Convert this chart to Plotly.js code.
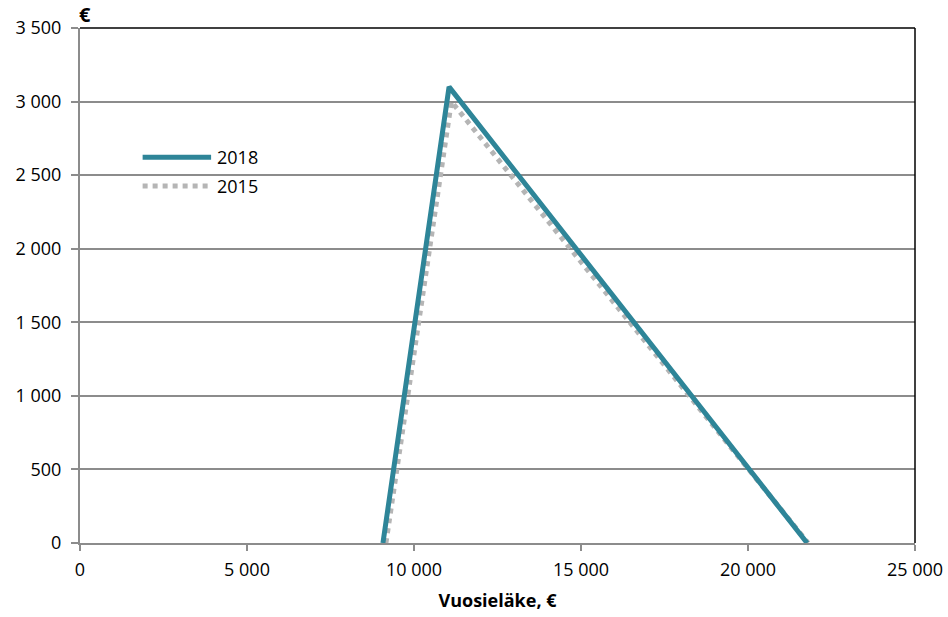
<!DOCTYPE html>
<html><head><meta charset="utf-8">
<script src="https://cdn.plot.ly/plotly-3.0.1.min.js"></script>
<style>body{margin:0;background:#fff}#chart{width:948px;height:617px}</style>
</head><body><div id="chart"></div>
<script>
const x2018 = [9070, 11050, 21770];
const y2018 = [0, 3100, 0];
const x2015 = [9160, 11120, 21800];
const y2015 = [0, 3000, 0];
const seriesNames = ['2018', '2015'];
const xTicks = [0, 5000, 10000, 15000, 20000, 25000];
const yTicks = [0, 500, 1000, 1500, 2000, 2500, 3000, 3500];
const xTitle = 'Vuosieläke, €';
const yUnit = '€';

const teal = '#2e8598', grey = '#b5b5b5', axisGrey = '#8c8c8c';
const FONT = 'Open Sans, sans-serif';

const traces = [
  {x: x2015, y: y2015, mode: 'lines', name: seriesNames[1],
   line: {color: grey, width: 5, dash: '5px,5px'}},
  {x: x2018, y: y2018, mode: 'lines', name: seriesNames[0],
   line: {color: teal, width: 5}}
];

const layout = {
  width: 948, height: 617,
  margin: {l: 80, r: 33, t: 28, b: 74},
  paper_bgcolor: '#fff', plot_bgcolor: '#fff',
  separators: ', ',
  showlegend: false,
  font: {family: FONT, size: 18, color: '#000'},
  xaxis: {
    range: [0, 25000], tickvals: xTicks, tickformat: ',d',
    showgrid: false, zeroline: false,
    showline: true, linecolor: axisGrey, linewidth: 2,
    ticks: 'outside', ticklen: 6, tickcolor: axisGrey, tickwidth: 2,
    ticklabelstandoff: 3,
    tickfont: {family: FONT, size: 18},
    title: {text: '<b>' + xTitle + '</b>', font: {family: FONT, size: 18}, standoff: 15}
  },
  yaxis: {
    range: [0, 3500], tickvals: yTicks, tickformat: ',d',
    showgrid: true, gridcolor: axisGrey, gridwidth: 2, zeroline: false,
    showline: true, linecolor: axisGrey, linewidth: 2,
    ticks: 'outside', ticklen: 7, tickcolor: axisGrey, tickwidth: 2,
    ticklabelstandoff: 6,
    tickfont: {family: FONT, size: 18}
  },
  shapes: [
    {type: 'line', xref: 'paper', yref: 'paper', x0: 0, x1: 1, y0: 1, y1: 1, line: {color: '#000', width: 1.5}},
    {type: 'line', xref: 'paper', yref: 'paper', x0: 1, x1: 1, y0: 0, y1: 1, line: {color: '#000', width: 1.5}},
    {type: 'line', xref: 'paper', yref: 'paper', x0: 0.075, x1: 0.157, y0: 0.749, y1: 0.749, line: {color: teal, width: 5}},
    {type: 'line', xref: 'paper', yref: 'paper', x0: 0.075, x1: 0.157, y0: 0.693, y1: 0.693, line: {color: grey, width: 5, dash: '5px,5px'}}
  ],
  annotations: [
    {xref: 'paper', yref: 'paper', x: 0.162, y: 0.749, xanchor: 'left', yanchor: 'middle', showarrow: false, text: seriesNames[0], font: {family: FONT, size: 18}},
    {xref: 'paper', yref: 'paper', x: 0.162, y: 0.693, xanchor: 'left', yanchor: 'middle', showarrow: false, text: seriesNames[1], font: {family: FONT, size: 18}},
    {xref: 'paper', yref: 'paper', x: 0.0, y: 1.0, xanchor: 'left', yanchor: 'bottom', yshift: -2, xshift: -3, showarrow: false, text: '<b>' + yUnit + '</b>', font: {family: FONT, size: 20}}
  ]
};

Plotly.newPlot('chart', traces, layout, {displayModeBar: false, staticPlot: true});
</script>
</body></html>
